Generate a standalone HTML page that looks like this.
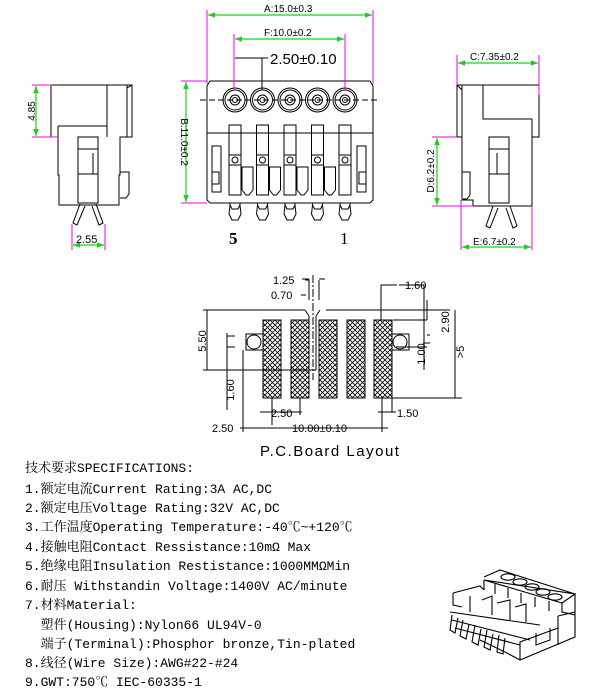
<!DOCTYPE html>
<html><head><meta charset="utf-8"><style>
html,body{margin:0;padding:0;background:#fff;}
#w{position:relative;width:614px;height:695px;overflow:hidden;}
svg{position:absolute;left:0;top:0;}
.s{position:absolute;left:25px;font-family:"Liberation Mono","Noto Serif CJK SC","Noto Sans CJK SC",monospace;font-size:13px;color:#000;white-space:pre;line-height:16px;}
</style></head><body><div id="w">
<svg width="614" height="695" viewBox="0 0 614 695" font-family="Liberation Sans, sans-serif">
<defs>
<pattern id="h" width="5" height="5" patternUnits="userSpaceOnUse"><path d="M0 5L5 0M0 0L5 5" stroke="#000" stroke-width="0.8"/></pattern>
<marker id="g" viewBox="0 0 10 10" refX="10" refY="5" markerWidth="6" markerHeight="6" orient="auto-start-reverse"><path d="M0 1L10 5L0 9z" fill="#2c2"/></marker>
</defs>
<g stroke="#000" fill="none" stroke-width="1">
<!-- front view -->
<path d="M207 86L210 81H370L373 86V200L370 203H210L207 200Z"/>
<line x1="207" y1="133" x2="373" y2="133"/>
<line x1="200" y1="100" x2="380" y2="100" stroke-dasharray="6,3"/>
<g id="hole"><circle cx="235" cy="100" r="12"/><circle cx="235" cy="100" r="10"/><circle cx="235" cy="100" r="5"/><circle cx="235" cy="100" r="2.5"/></g>
<use href="#hole" x="27.5"/><use href="#hole" x="55"/><use href="#hole" x="82.5"/><use href="#hole" x="110"/>
<g id="t"><rect x="229" y="125" width="12" height="70"/><line x1="229" y1="155" x2="241" y2="155"/><line x1="229" y1="165" x2="241" y2="165"/><circle cx="235" cy="160" r="3"/>
<path d="M230 205L232 209H238L240 205L241 214L238 220H232L229 214Z"/><line x1="230" y1="203" x2="230" y2="205"/><line x1="240" y1="203" x2="240" y2="205"/></g>
<use href="#t" x="27.5"/><use href="#t" x="55"/><use href="#t" x="82.5"/><use href="#t" x="110"/>
<g id="sl"><path d="M242 167H253V190L249 195H246L242 190Z"/></g>
<use href="#sl" x="27.5"/><use href="#sl" x="55"/><use href="#sl" x="82.5"/>
<rect x="212" y="146" width="9" height="46"/><rect x="212" y="172" width="7" height="12"/>
<rect x="357" y="146" width="9" height="46"/><rect x="359" y="172" width="7" height="12"/>
<line x1="262" y1="58" x2="262" y2="90"/>
<!-- left side view -->
<path d="M51 85H132V137H120V175H119V205H59V175H58V137H51Z"/>
<path d="M58 126H107V137M58 126V137M107 85V126M127 85V137M127 88L132 85"/>
<rect x="78" y="137" width="20" height="66"/><line x1="78" y1="149" x2="98" y2="149"/><line x1="93" y1="153" x2="93" y2="174"/><line x1="78" y1="174" x2="98" y2="174"/>
<path d="M120 172H129V194L126 198H120"/>
<path d="M80 204L73 223L77 225L85 206M96 204L103 223L99 225L92 206"/>
<!-- right side view -->
<path d="M457 85H539V137H532V206H473V200H462V137H457Z"/>
<path d="M462 85V137M457 85L462 90M483 85V119H532M532 119V137H539"/>
<rect x="489" y="137" width="20" height="66"/><line x1="489" y1="149" x2="509" y2="149"/><line x1="497" y1="153" x2="497" y2="174"/><line x1="489" y1="174" x2="509" y2="174"/>
<path d="M462 172H470V195L467 199H463"/>
<path d="M493 206L486 226L490 228L498 208M510 206L517 226L513 228L506 208"/>
<!-- PCB -->
<g stroke-width="1">
<rect x="263" y="320" width="18" height="78" fill="url(#h)"/>
<rect x="291" y="320" width="18" height="78" fill="url(#h)"/>
<rect x="319" y="320" width="18" height="78" fill="url(#h)"/>
<rect x="347" y="320" width="18" height="78" fill="url(#h)"/>
<rect x="374" y="320" width="18" height="78" fill="url(#h)"/>
<path d="M246 334H263V350H246Z"/><circle cx="254" cy="342" r="7"/>
<path d="M392 334H409V350H392Z"/><circle cx="400" cy="342" r="7"/>
<line x1="203" y1="310" x2="305" y2="310"/><line x1="326" y1="310" x2="450" y2="310"/>
<path d="M305 310L309 316V370H316V316L320 310"/>
<line x1="313" y1="275" x2="313" y2="380" stroke-dasharray="8,2,2,2"/>
<line x1="203" y1="370" x2="309" y2="370"/>
<line x1="207" y1="310" x2="207" y2="370"/>
<path d="M305 280H309V300M319 280V300M319 279H325M302 279H309M301 295H306"/>
<path d="M381 320V285H397M399 285H424V370"/>
<path d="M393 320H427M427 300V320M427 335H430M423 343H430M396 347H427"/>
<path d="M392 398H462M455 310V398"/>
<path d="M227 333V410M227 347H235M227 336H235"/>
<path d="M272 398V425M300 398V415M260 412H302"/>
<path d="M382 398V412M392 398V412M378 412H396"/>
<path d="M243 350V432M382 400V432M240 428H388"/>
</g>
<!-- 3D view -->
<g stroke-width="1.1">
<path d="M484 577L500 570L575 594V615M575 594L562 603L484 580Z"/>
<ellipse cx="508" cy="577" rx="7" ry="3.2"/><ellipse cx="520" cy="582" rx="7" ry="3.2"/><ellipse cx="532" cy="587" rx="7" ry="3.2"/><ellipse cx="543" cy="592" rx="7" ry="3.2"/><ellipse cx="555" cy="597" rx="7" ry="3.2"/>
<path d="M562 603V612L575 615M575 615V637L520 660L505 652L480 640"/>
<path d="M558 616L575 612M558 616V645"/>
<path d="M520 660V642L558 628"/>
<path d="M536 633V645L550 640V628"/>
<path d="M484 580V590M495 584V594M508 588V598M521 593V603M535 597V607M549 601V611"/>
<path d="M453 593L480 586L484 590M453 593V605L462 607M470 596V612M482 600L492 596V615M497 603L510 600V620M515 607L526 604V622"/>
<path d="M450 612L540 625M452 620L530 640M455 628L520 645"/>
<path d="M452 615L450 630L455 633L458 618M463 620L460 636L466 639L469 624M475 625L472 642L478 645L481 629M487 630L484 647L490 650L493 634M499 635L497 652L503 654L505 638"/>
</g>
</g>
<!-- magenta extension lines -->
<g stroke="#e0e" stroke-width="1">
<line x1="207" y1="10" x2="207" y2="84"/><line x1="373" y1="10" x2="373" y2="84"/>
<line x1="234" y1="34" x2="234" y2="90"/><line x1="345" y1="34" x2="345" y2="90"/>
<line x1="181" y1="81" x2="207" y2="81"/><line x1="181" y1="203" x2="207" y2="203"/>
<line x1="32" y1="85" x2="52" y2="85"/><line x1="32" y1="137" x2="58" y2="137"/>
<line x1="72" y1="224" x2="72" y2="250"/><line x1="105" y1="224" x2="105" y2="250"/>
<line x1="457" y1="55" x2="457" y2="85"/><line x1="539" y1="55" x2="539" y2="95"/>
<line x1="432" y1="137" x2="457" y2="137"/><line x1="432" y1="206" x2="473" y2="206"/>
<line x1="461" y1="200" x2="461" y2="250"/><line x1="532" y1="206" x2="532" y2="250"/>
</g>
<g stroke="#2c2" stroke-width="1.2">
<line x1="208" y1="15" x2="372" y2="15" marker-start="url(#g)" marker-end="url(#g)"/>
<line x1="235" y1="39" x2="344" y2="39" marker-start="url(#g)" marker-end="url(#g)"/>
<line x1="186" y1="82" x2="186" y2="202" marker-start="url(#g)" marker-end="url(#g)"/>
<line x1="36" y1="86" x2="36" y2="136" marker-start="url(#g)" marker-end="url(#g)"/>
<line x1="73" y1="245" x2="104" y2="245" marker-start="url(#g)" marker-end="url(#g)"/>
<line x1="458" y1="63" x2="538" y2="63" marker-start="url(#g)" marker-end="url(#g)"/>
<line x1="437" y1="138" x2="437" y2="205" marker-start="url(#g)" marker-end="url(#g)"/>
<line x1="462" y1="247" x2="531" y2="247" marker-start="url(#g)" marker-end="url(#g)"/>
</g>
<line x1="235" y1="58" x2="268" y2="58" stroke="#000"/>
<g fill="#000" font-size="10">
<text x="264" y="12">A:15.0±0.3</text>
<text x="264" y="36">F:10.0±0.2</text>
<text x="270" y="64" font-size="15">2.50±0.10</text>
<text x="181" y="142" transform="rotate(90 181 142)" text-anchor="middle" font-size="10">B:11.0±0.2</text>
<text x="35" y="111" transform="rotate(-90 35 111)" text-anchor="middle">4.85</text>
<text x="76" y="243" font-size="11">2.55</text>
<text x="470" y="60">C:7.35±0.2</text>
<text x="434" y="171" transform="rotate(-90 434 171)" text-anchor="middle">D:6.2±0.2</text>
<text x="473" y="245">E:6.7±0.2</text>
<text x="229" y="244" font-family="Liberation Serif,serif" font-size="17" font-weight="bold">5</text>
<text x="340" y="244" font-family="Liberation Serif,serif" font-size="17">1</text>
<g font-size="11">
<text x="273" y="284">1.25</text>
<text x="271" y="299">0.70</text>
<text x="405" y="289">1.60</text>
<text x="206" y="341" transform="rotate(-90 206 341)" text-anchor="middle">5.50</text>
<text x="234" y="390" transform="rotate(-90 234 390)" text-anchor="middle">1.60</text>
<text x="449" y="322" transform="rotate(-90 449 322)" text-anchor="middle">2.90</text>
<text x="425" y="354" transform="rotate(-90 425 354)" text-anchor="middle">1.00</text>
<text x="464" y="352" transform="rotate(-90 464 352)" text-anchor="middle">&gt;5</text>
<text x="271" y="417">2.50</text>
<text x="397" y="417">1.50</text>
<text x="212" y="432">2.50</text>
<text x="292" y="432">10.00±0.10</text>
</g>
<text x="260" y="456" font-size="15" letter-spacing="1.5">P.C.Board Layout</text>
</g>
</svg>
<div class="s" style="top:461px">技术要求SPECIFICATIONS:</div>
<div class="s" style="top:482px">1.额定电流Current Rating:3A AC,DC</div>
<div class="s" style="top:501px">2.额定电压Voltage Rating:32V AC,DC</div>
<div class="s" style="top:520px">3.工作温度Operating Temperature:-40℃~+120℃</div>
<div class="s" style="top:540px">4.接触电阻Contact Ressistance:10mΩ Max</div>
<div class="s" style="top:559px">5.绝缘电阻Insulation Restistance:1000MMΩMin</div>
<div class="s" style="top:579px">6.耐压 Withstandin Voltage:1400V AC/minute</div>
<div class="s" style="top:598px">7.材料Material:</div>
<div class="s" style="top:618px">  塑件(Housing):Nylon66 UL94V-0</div>
<div class="s" style="top:637px">  端子(Terminal):Phosphor bronze,Tin-plated</div>
<div class="s" style="top:656px">8.线径(Wire Size):AWG#22-#24</div>
<div class="s" style="top:675px">9.GWT:750℃ IEC-60335-1</div>
</div></body></html>
